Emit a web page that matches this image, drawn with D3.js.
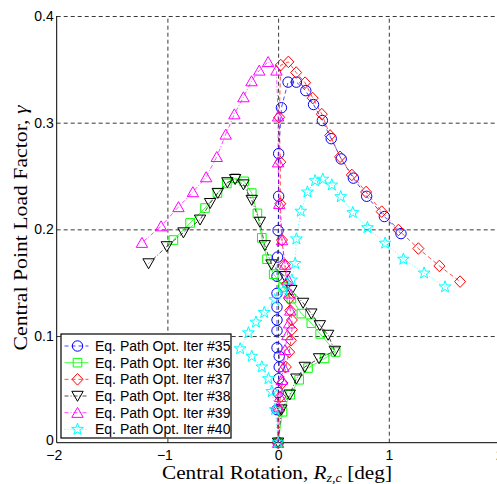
<!DOCTYPE html>
<html><head><meta charset="utf-8">
<script src="https://cdn.jsdelivr.net/npm/d3@7"></script>
<style>body{margin:0;background:#fff}svg{display:block}</style>
</head><body>
<script>
const xTicks = [-2, -1, 0, 1, 2];
const yTicks = [0, 0.1, 0.2, 0.3, 0.4];
const xTickLabels = ["\u22122", "\u22121", "0", "1", "2"];
const yTickLabels = ["0", "0.1", "0.2", "0.3", "0.4"];
const seriesNames = ["Eq. Path Opt. Iter #35", "Eq. Path Opt. Iter #36", "Eq. Path Opt. Iter #37",
                     "Eq. Path Opt. Iter #38", "Eq. Path Opt. Iter #39", "Eq. Path Opt. Iter #40"];

const x35 = [0, -0.01, 0, 0.005, 0.01, 0.01, -0.01, -0.01, -0.01, -0.01, -0.01, -0.01, -0.005, 0, 0.005, 0.005, 0.03, 0.09, 0.165, 0.25, 0.32, 0.40, 0.48, 0.57, 0.68, 0.80, 0.96, 1.11];
const y35 = [0, 0.031, 0.047, 0.060, 0.071, 0.081, 0.089, 0.105, 0.115, 0.127, 0.140, 0.156, 0.174, 0.199, 0.231, 0.271, 0.314, 0.338, 0.338, 0.330, 0.317, 0.302, 0.285, 0.266, 0.248, 0.231, 0.212, 0.196];

const x36 = [0, 0.04, 0.11, 0.19, 0.27, 0.42, 0.52, 0.38, 0.30, 0.21, 0.12, 0.045, -0.04, -0.10, -0.147, -0.187, -0.238, -0.307, -0.388, -0.463, -0.548, -0.66, -0.795, -0.946];
const y36 = [0, 0.029, 0.045, 0.059, 0.070, 0.079, 0.085, 0.102, 0.112, 0.121, 0.135, 0.146, 0.158, 0.172, 0.192, 0.215, 0.234, 0.245, 0.248, 0.243, 0.234, 0.220, 0.206, 0.190];

const x37 = [0, 0.01, 0.02, 0.04, 0.07, 0.10, 0.115, 0.125, 0.125, 0.11, 0.10, 0.08, 0.06, 0.035, 0.02, 0.02, 0.01, 0.024, 0.093, 0.163, 0.244, 0.313, 0.395, 0.47, 0.56, 0.666, 0.795, 0.936, 1.087, 1.267, 1.457, 1.644];
const y37 = [0, 0.030, 0.043, 0.056, 0.071, 0.085, 0.096, 0.106, 0.115, 0.124, 0.135, 0.149, 0.167, 0.190, 0.224, 0.263, 0.305, 0.354, 0.357, 0.347, 0.3375, 0.323, 0.308, 0.288, 0.268, 0.251, 0.235, 0.2166, 0.1994, 0.182, 0.1657, 0.151];

const x38 = [0, 0.03, 0.105, 0.165, 0.241, 0.37, 0.512, 0.452, 0.377, 0.30, 0.226, 0.12, 0.06, -0.06, -0.12, -0.165, -0.238, -0.313, -0.388, -0.458, -0.545, -0.614, -0.705, -0.855, -1.005, -1.17];
const y38 = [0, 0.031, 0.045, 0.060, 0.071, 0.079, 0.086, 0.101, 0.110, 0.121, 0.131, 0.143, 0.156, 0.167, 0.185, 0.207, 0.2275, 0.242, 0.247, 0.244, 0.234, 0.2245, 0.209, 0.197, 0.184, 0.168];

const x39 = [0, 0, 0.018, 0.033, 0.048, 0.063, 0.084, 0.10, 0.11, 0.10, 0.09, 0.063, 0.035, 0.01, 0, 0, -0.015, -0.09, -0.17, -0.24, -0.313, -0.395, -0.473, -0.554, -0.65, -0.77, -0.9, -1.057, -1.23];
const y39 = [0, 0.034, 0.043, 0.059, 0.071, 0.087, 0.101, 0.112, 0.124, 0.140, 0.153, 0.167, 0.190, 0.224, 0.263, 0.306, 0.349, 0.357, 0.349, 0.339, 0.324, 0.308, 0.289, 0.268, 0.249, 0.235, 0.221, 0.203, 0.1875];

const x40 = [0, -0.027, -0.057, -0.087, -0.147, -0.238, -0.343, -0.268, -0.200, -0.125, -0.03, 0.05, 0.124, 0.154, 0.165, 0.205, 0.265, 0.334, 0.404, 0.485, 0.566, 0.675, 0.807, 0.967, 1.132, 1.319, 1.508];
const y40 = [0, 0.031, 0.048, 0.060, 0.071, 0.081, 0.088, 0.103, 0.113, 0.122, 0.134, 0.143, 0.1525, 0.168, 0.191, 0.217, 0.235, 0.2456, 0.247, 0.2416, 0.2306, 0.2157, 0.2016, 0.187, 0.172, 0.159, 0.146];

const colors = ["#0000ff", "#00ff00", "#ff0000", "#000000", "#ff00ff", "#00ffff"];
const markers = ["circle", "square", "diamond", "tridown", "triup", "star"];
const dashes = ["4,3", null, "4,3", "4,2,1,2", "4,2,1,2", "1,2"];

const seriesX = [x35, x36, x37, x38, x39, x40];
const seriesY = [y35, y36, y37, y38, y39, y40];
const series = seriesNames.map((n, i) => ({
  name: n, color: colors[i], marker: markers[i], dash: dashes[i],
  pts: seriesX[i].map((v, j) => [v, seriesY[i][j]])
}));

const W = 497, H = 484;
const L = 56.7, R = 499.5, T = 16, B = 442.7;
const svg = d3.select("body").append("svg").attr("width", W).attr("height", H);
const x = d3.scaleLinear().domain([-2, 2]).range([L, R]);
const y = d3.scaleLinear().domain([0, 0.4]).range([B, T]);

const gx = svg.append("g").attr("transform", `translate(0,${B})`)
  .call(d3.axisBottom(x).tickValues(xTicks).tickSize(-(B - T)).tickFormat((d, i) => xTickLabels[i]));
gx.select(".domain").remove();
gx.selectAll(".tick line").attr("stroke", "#222").attr("stroke-dasharray", "4,3").attr("stroke-width", 0.9)
  .filter(d => d === -2).remove();
gx.selectAll(".tick text").attr("font-family", "Liberation Sans, Arial, sans-serif").attr("font-size", 14)
  .attr("fill", "#000").attr("y", 7).attr("dy", "0.71em").attr("dx", d => d < 0 ? -3 : 0);

const gy = svg.append("g").attr("transform", `translate(${L},0)`)
  .call(d3.axisLeft(y).tickValues(yTicks).tickSize(-(R - L)).tickFormat((d, i) => yTickLabels[i]));
gy.select(".domain").remove();
gy.selectAll(".tick line").attr("stroke", "#222").attr("stroke-dasharray", "4,3").attr("stroke-width", 0.9)
  .filter(d => d === 0).remove();
gy.selectAll(".tick text").attr("font-family", "Liberation Sans, Arial, sans-serif").attr("font-size", 14)
  .attr("fill", "#000").attr("x", -3).attr("dy", d => d === 0 ? "0.1em" : "0.32em");

svg.append("line").attr("x1", L).attr("x2", L).attr("y1", T).attr("y2", B).attr("stroke", "#000").attr("stroke-width", 1);
svg.append("line").attr("x1", L).attr("x2", R).attr("y1", B).attr("y2", B).attr("stroke", "#000").attr("stroke-width", 1);

function markerPath(type) {
  switch (type) {
    case "circle": return "M5.2,0A5.2,5.2 0 1,1 -5.2,0A5.2,5.2 0 1,1 5.2,0Z";
    case "square": return "M-4.3,-4.3H4.3V4.3H-4.3Z";
    case "diamond": return "M0,-5.8L5.5,0L0,5.8L-5.5,0Z";
    case "triup": return "M0,-5.3L5.7,4.7L-5.7,4.7Z";
    case "tridown": return "M0,5.3L5.7,-4.7L-5.7,-4.7Z";
    case "star": {
      const ro = 6.2, ri = 2.5; let p = "";
      for (let k = 0; k < 10; k++) {
        const r = k % 2 ? ri : ro, a = -Math.PI / 2 + k * Math.PI / 5;
        p += (k ? "L" : "M") + (r * Math.cos(a)).toFixed(2) + "," + (r * Math.sin(a)).toFixed(2);
      }
      return p + "Z";
    }
  }
}

const line = d3.line().x(d => x(d[0])).y(d => y(d[1]));
const plot = svg.append("g");
series.forEach(s => {
  const g = plot.append("g");
  g.append("path").attr("d", line(s.pts)).attr("fill", "none").attr("stroke", s.color)
    .attr("stroke-width", 0.7).attr("stroke-dasharray", s.dash);
  g.selectAll("path.m").data(s.pts).join("path").attr("class", "m")
    .attr("d", markerPath(s.marker))
    .attr("transform", d => `translate(${x(d[0])},${y(d[1])})`)
    .attr("fill", "none").attr("stroke", s.color).attr("stroke-width", 1);
});

const lg = svg.append("g").attr("transform", "translate(61,334)");
lg.append("rect").attr("x", 0).attr("y", 0).attr("width", 170).attr("height", 104)
  .attr("fill", "#fff").attr("stroke", "#000").attr("stroke-width", 1.2);
series.forEach((s, i) => {
  const cy = 12 + i * 16.67;
  lg.append("line").attr("x1", 3.5).attr("x2", 27.5).attr("y1", cy).attr("y2", cy)
    .attr("stroke", s.color).attr("stroke-width", 0.7).attr("stroke-dasharray", s.dash);
  lg.append("path").attr("d", markerPath(s.marker)).attr("transform", `translate(16.5,${cy})`)
    .attr("fill", "none").attr("stroke", s.color).attr("stroke-width", 1);
  lg.append("text").attr("x", 34).attr("y", cy + 5).attr("font-family", "Liberation Sans, Arial, sans-serif")
    .attr("font-size", 14).attr("fill", "#000").text(s.name);
});

const xl = svg.append("text").attr("x", 277).attr("y", 478.5).attr("text-anchor", "middle")
  .attr("font-family", "Liberation Serif, Times New Roman, serif").attr("font-size", 18)
  .attr("textLength", 230).attr("lengthAdjust", "spacingAndGlyphs").attr("fill", "#000");
xl.append("tspan").text("Central Rotation, ");
xl.append("tspan").attr("font-style", "italic").text("R");
xl.append("tspan").attr("font-style", "italic").attr("font-size", 12).attr("dy", 3).text("z,c");
xl.append("tspan").attr("dy", -3).text(" [deg]");

const yl = svg.append("text").attr("transform", "translate(27,228) rotate(-90)").attr("text-anchor", "middle")
  .attr("font-family", "Liberation Serif, Times New Roman, serif").attr("font-size", 19)
  .attr("textLength", 245).attr("lengthAdjust", "spacingAndGlyphs").attr("fill", "#000");
yl.append("tspan").text("Central Point Load Factor, ");
yl.append("tspan").attr("font-style", "italic").text("\u03b3");
</script>
</body></html>
